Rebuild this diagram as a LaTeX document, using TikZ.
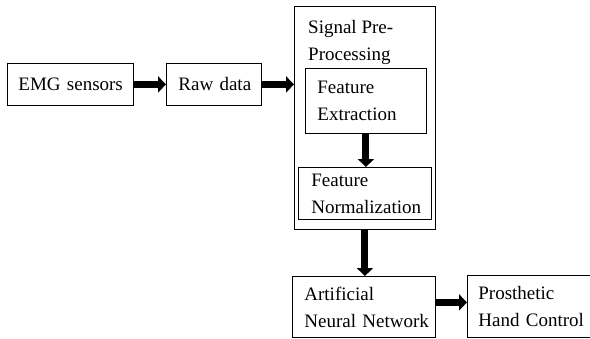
\documentclass[tikz,border=0pt]{standalone}
\usepackage{fontspec}
\setmainfont{Liberation Serif}
\usetikzlibrary{arrows.meta}
\newcommand{\boxfont}{\fontsize{19bp}{27bp}\selectfont}
\begin{document}
\begin{tikzpicture}[x=1bp,y=-1bp,
  box/.style={draw, line width=0.8bp, inner xsep=12bp, inner ysep=0pt, align=left,
    anchor=north west, font=\boxfont},
  frame/.style={draw, line width=0.8bp, inner sep=0pt, anchor=north west},
  lbl/.style={inner sep=0pt, anchor=north west, align=left, font=\boxfont},
  flow/.style={line width=7bp, -{Triangle[width=16bp,length=8bp]}}]
\useasboundingbox (0,0) rectangle (590,338);
% boxes
\node[box, inner xsep=11bp, minimum width=126bp, minimum height=42bp, text width=104bp] (emg) at (7,63) {\mbox{EMG sensors}};
\node[box, minimum width=95bp, minimum height=42bp, text width=71bp] (raw) at (166,63) {\mbox{Raw data}};
\node[frame, minimum width=141bp, minimum height=223bp] (pre) at (294,6) {};
\node[lbl] (pretext) at (308,20) {\mbox{Signal Pre-}\\\mbox{Processing}};
\node[box, minimum width=121bp, minimum height=65bp, text width=97bp] (fe) at (305,68) {\mbox{Feature}\\\mbox{Extraction}};
\node[box, inner xsep=13bp, minimum width=133bp, minimum height=52bp, text width=107bp] (fn) at (298,167) {\mbox{Feature}\\\mbox{Normalization}};
\node[box, minimum width=143bp, minimum height=61bp, text width=119bp] (ann) at (292,276) {\mbox{Artificial}\\\mbox{Neural Network}};
\node[box, inner xsep=11bp, minimum width=123bp, minimum height=62bp, text width=101bp] (pro) at (467,275) {\mbox{Prosthetic}\\\mbox{Hand Control}};
% connectors
\draw[flow] (emg) -- (raw);
\draw[flow] (raw.east) -- (raw.east -| pre.west);
\draw[flow] (fe.south) -- (fe.south |- fn.north);
\draw[flow] (pre.south) -- (pre.south |- ann.north);
\draw[flow] ([yshift=4.5bp]ann.east) -- ([yshift=4.5bp]ann.east -| pro.west);
\end{tikzpicture}
\end{document}
